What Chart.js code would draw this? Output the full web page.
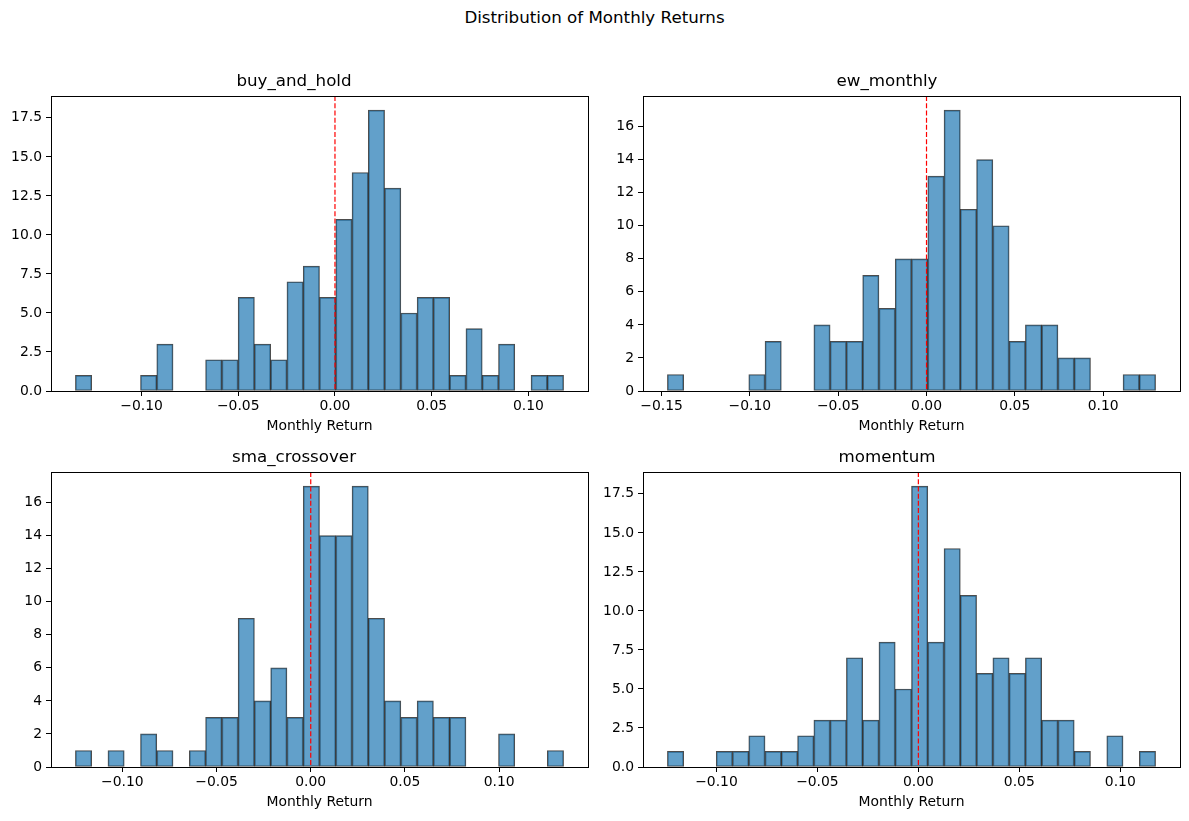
<!DOCTYPE html>
<html>
<head>
<meta charset="utf-8">
<script src="https://cdn.jsdelivr.net/npm/chart.js@4.4.0/dist/chart.umd.min.js"></script>
<style>
  body { margin: 0; background: #fff; width: 1189px; height: 821px; position: relative; overflow: hidden; }
  #suptitle { position: absolute; top: 7px; left: 0; width: 1189px; text-align: center;
    font-family: 'DejaVu Sans', sans-serif; font-size: 16.7px; color: #000; }
  canvas { position: absolute; }
</style>
</head>
<body>
<div id="suptitle">Distribution of Monthly Returns</div>
<canvas id="c0" width="594" height="384" style="left:0px;top:56px"></canvas>
<canvas id="c1" width="595" height="384" style="left:594px;top:56px"></canvas>
<canvas id="c2" width="594" height="384" style="left:0px;top:432px"></canvas>
<canvas id="c3" width="595" height="384" style="left:594px;top:432px"></canvas>
<script>
// histogram counts, 30 bins each
const strategies = ['buy_and_hold', 'ew_monthly', 'sma_crossover', 'momentum'];
const buyAndHoldCounts = [1,0,0,0,1,3,0,0,2,2,6,3,2,7,8,6,11,14,18,13,5,6,6,1,4,1,3,0,1,1];
const ewMonthlyCounts = [1,0,0,0,0,1,3,0,0,4,3,3,7,5,8,8,13,17,11,14,10,3,4,4,2,2,0,0,1,1];
const smaCrossoverCounts = [1,0,1,0,2,1,0,1,3,3,9,4,6,3,17,14,14,17,9,4,3,4,3,3,0,0,2,0,0,1];
const momentumCounts = [1,0,0,1,1,2,1,1,2,3,3,7,3,8,5,18,8,14,11,6,7,6,7,3,3,1,0,2,0,1];
// lowest and highest bin edge of each histogram
const binStart = [-0.1342, -0.1467, -0.1249, -0.1243];
const binEnd = [0.1182, 0.1297, 0.1342, 0.1175];
const yStep = [2.5, 2, 2, 2.5];

const allCounts = [buyAndHoldCounts, ewMonthlyCounts, smaCrossoverCounts, momentumCounts];

Chart.defaults.font.family = "'DejaVu Sans', sans-serif";
Chart.defaults.font.size = 13.9;
Chart.defaults.color = '#000';

function minus(s) {
    return s.replace('-', '\u2212');
}

const framePlugin = {
    id: 'frame',
    afterDatasetsDraw(chart) {
        const ctx = chart.ctx;
        const a = chart.chartArea;
        const x0 = chart.scales.x.getPixelForValue(0);
        ctx.save();
        ctx.strokeStyle = '#ff0000';
        ctx.lineWidth = 1.2;
        ctx.setLineDash([5, 2.2]);
        ctx.beginPath();
        ctx.moveTo(x0, a.top);
        ctx.lineTo(x0, a.bottom);
        ctx.stroke();
        ctx.setLineDash([]);
        ctx.strokeStyle = '#000';
        ctx.lineWidth = 1;
        ctx.strokeRect(Math.round(a.left) + 0.5, Math.round(a.top) + 0.5,
            Math.round(a.right - a.left), Math.round(a.bottom - a.top));
        ctx.restore();
    }
};

function drawPanel(i) {
    const counts = allCounts[i];
    const w = (binEnd[i] - binStart[i]) / counts.length;
    const points = counts.map((c, k) => ({ x: binStart[i] + (k + 0.5) * w, y: c }));
    const margin = (binEnd[i] - binStart[i]) * 0.05;
    const ymax = Math.max(...counts) * 1.05;
    const leftSide = i % 2 === 0;

    new Chart(document.getElementById('c' + i), {
        type: 'bar',
        data: {
            datasets: [{
                data: points,
                backgroundColor: 'rgba(31,119,180,0.7)',
                borderColor: 'rgba(0,0,0,0.7)',
                borderWidth: 1,
                borderSkipped: false,
                barPercentage: 1,
                categoryPercentage: 1
            }]
        },
        options: {
            responsive: false,
            animation: false,
            layout: { padding: { left: 0, right: leftSide ? 6 : 9, top: 0, bottom: 0 } },
            plugins: {
                legend: { display: false },
                tooltip: { enabled: false },
                title: {
                    display: true,
                    text: strategies[i],
                    font: { size: 16.7, weight: 'normal' },
                    padding: { top: 16, bottom: 4 }
                }
            },
            scales: {
                x: {
                    type: 'linear',
                    min: binStart[i] - margin,
                    max: binEnd[i] + margin,
                    offset: false,
                    grid: { display: true, offset: false, drawOnChartArea: false, drawTicks: true, tickLength: 5, color: '#000' },
                    border: { display: false },
                    ticks: {
                        stepSize: 0.05,
                        includeBounds: false,
                        padding: 2,
                        maxRotation: 0,
                        autoSkip: false,
                        callback: v => minus(v.toFixed(2))
                    },
                    title: { display: true, text: 'Monthly Return', padding: { top: 0, bottom: 5 } },
                    afterFit(scale) { scale.height = 49; }
                },
                y: {
                    min: 0,
                    max: ymax,
                    grid: { display: true, drawOnChartArea: false, drawTicks: true, tickLength: 5, color: '#000' },
                    border: { display: false },
                    ticks: {
                        stepSize: yStep[i],
                        includeBounds: false,
                        padding: 4,
                        callback: v => yStep[i] % 1 ? v.toFixed(1) : v.toFixed(0)
                    },
                    afterFit(scale) { scale.width = leftSide ? 51 : 49; }
                }
            }
        },
        plugins: [framePlugin]
    });
}

for (let i = 0; i < 4; i++) {
    drawPanel(i);
}
</script>
</body>
</html>
